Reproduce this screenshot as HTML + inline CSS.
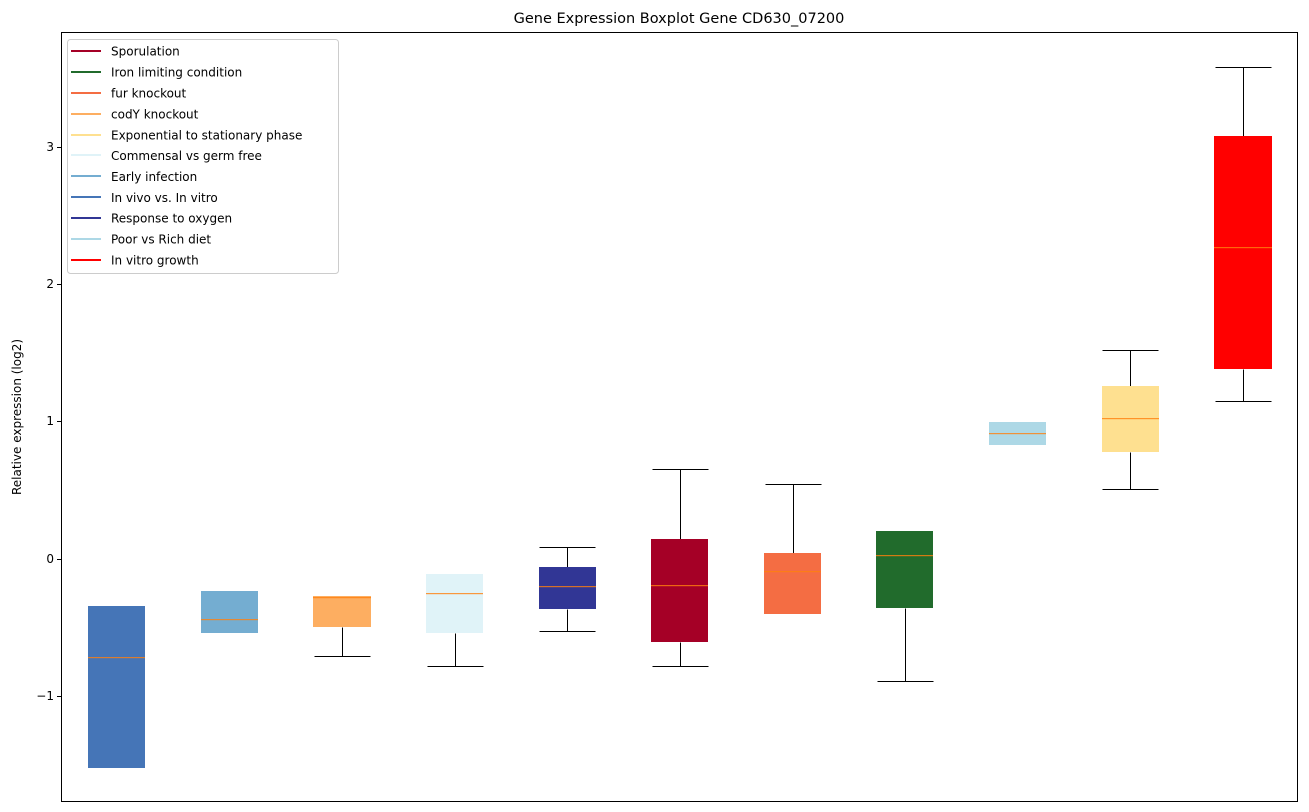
<!DOCTYPE html>
<html><head><style>body{margin:0;background:#fff}svg{display:block}text{font-family:"DejaVu Sans","Liberation Sans",sans-serif}</style></head><body>
<svg width="1309" height="812" xmlns="http://www.w3.org/2000/svg">
<rect width="1309" height="812" fill="#fff"/>
<text x="679" y="23" font-size="14.5" text-anchor="middle">Gene Expression Boxplot Gene CD630_07200</text>
<g stroke="#000" stroke-width="1" transform="translate(0.5,0.5)">
<line x1="342" y1="627" x2="342" y2="656"/><line x1="314" y1="656" x2="370" y2="656"/>
<line x1="455" y1="633" x2="455" y2="666"/><line x1="427" y1="666" x2="483" y2="666"/>
<line x1="567" y1="547" x2="567" y2="567"/><line x1="567" y1="609" x2="567" y2="631"/><line x1="539" y1="547" x2="595" y2="547"/><line x1="539" y1="631" x2="595" y2="631"/>
<line x1="680" y1="469" x2="680" y2="539"/><line x1="680" y1="642" x2="680" y2="666"/><line x1="652" y1="469" x2="708" y2="469"/><line x1="652" y1="666" x2="708" y2="666"/>
<line x1="793" y1="484" x2="793" y2="553"/><line x1="765" y1="484" x2="821" y2="484"/>
<line x1="905" y1="608" x2="905" y2="681"/><line x1="877" y1="681" x2="933" y2="681"/>
<line x1="1130" y1="350" x2="1130" y2="386"/><line x1="1130" y1="452" x2="1130" y2="489"/><line x1="1102" y1="350" x2="1158" y2="350"/><line x1="1102" y1="489" x2="1158" y2="489"/>
<line x1="1243" y1="67" x2="1243" y2="136"/><line x1="1243" y1="369" x2="1243" y2="401"/><line x1="1215" y1="67" x2="1271" y2="67"/><line x1="1215" y1="401" x2="1271" y2="401"/>
</g>
<g>
<rect x="88" y="606" width="57" height="162" fill="#4575b7"/>
<rect x="201" y="591" width="57" height="42" fill="#74add1"/>
<rect x="313" y="596" width="58" height="31" fill="#fdae61"/>
<rect x="426" y="574" width="57" height="59" fill="#e0f3f8"/>
<rect x="539" y="567" width="57" height="42" fill="#313695"/>
<rect x="651" y="539" width="57" height="103" fill="#a50026"/>
<rect x="764" y="553" width="57" height="61" fill="#f46d43"/>
<rect x="876" y="531" width="57" height="77" fill="#216b2c"/>
<rect x="989" y="422" width="57" height="23" fill="#add8e6"/>
<rect x="1102" y="386" width="57" height="66" fill="#fee090"/>
<rect x="1214" y="136" width="58" height="233" fill="#ff0000"/>
</g>
<g fill="#ff7f0e" fill-opacity="0.8">
<rect x="88" y="657" width="57" height="1.2"/><rect x="201" y="619" width="57" height="1.2"/><rect x="313" y="597" width="58" height="1.2"/>
<rect x="426" y="593" width="57" height="1.2"/><rect x="539" y="586" width="57" height="1.2"/><rect x="651" y="585" width="57" height="1.2"/>
<rect x="764" y="571" width="57" height="1.2"/><rect x="876" y="555" width="57" height="1.2"/><rect x="989" y="433" width="57" height="1.2"/>
<rect x="1102" y="418" width="57" height="1.2"/><rect x="1214" y="247" width="58" height="1.2"/>
</g>
<rect x="61.5" y="32.5" width="1236" height="769" fill="none" stroke="#000" stroke-width="1"/>
<g font-size="12" text-anchor="end">
<line x1="57" y1="147.5" x2="61" y2="147.5" stroke="#000"/><text x="54" y="151">3</text>
<line x1="57" y1="284.5" x2="61" y2="284.5" stroke="#000"/><text x="54" y="288">2</text>
<line x1="57" y1="421.5" x2="61" y2="421.5" stroke="#000"/><text x="54" y="425">1</text>
<line x1="57" y1="559.5" x2="61" y2="559.5" stroke="#000"/><text x="54" y="563">0</text>
<line x1="57" y1="696.5" x2="61" y2="696.5" stroke="#000"/><text x="54" y="700">−1</text>
</g>
<text transform="translate(21,417) rotate(-90)" font-size="12" text-anchor="middle">Relative expression (log2)</text>
<rect x="67.5" y="39.5" width="271" height="234" rx="3" fill="#fff" fill-opacity="0.8" stroke="#ccc"/>
<g font-size="12" stroke-width="2">
<line x1="71" y1="51" x2="101" y2="51" stroke="#a50026"/><text x="111" y="55.5">Sporulation</text>
<line x1="71" y1="72" x2="101" y2="72" stroke="#216b2c"/><text x="111" y="76.5">Iron limiting condition</text>
<line x1="71" y1="93" x2="101" y2="93" stroke="#f46d43"/><text x="111" y="97.5">fur knockout</text>
<line x1="71" y1="114" x2="101" y2="114" stroke="#fdae61"/><text x="111" y="118.5">codY knockout</text>
<line x1="71" y1="135" x2="101" y2="135" stroke="#fee090"/><text x="111" y="139.5">Exponential to stationary phase</text>
<line x1="71" y1="155" x2="101" y2="155" stroke="#e0f3f8"/><text x="111" y="160">Commensal vs germ free</text>
<line x1="71" y1="176" x2="101" y2="176" stroke="#74add1"/><text x="111" y="181">Early infection</text>
<line x1="71" y1="197" x2="101" y2="197" stroke="#4575b7"/><text x="111" y="202">In vivo vs. In vitro</text>
<line x1="71" y1="218" x2="101" y2="218" stroke="#313695"/><text x="111" y="222.5">Response to oxygen</text>
<line x1="71" y1="239" x2="101" y2="239" stroke="#add8e6"/><text x="111" y="243.5">Poor vs Rich diet</text>
<line x1="71" y1="260" x2="101" y2="260" stroke="#ff0000"/><text x="111" y="264.5">In vitro growth</text>
</g>
</svg>
</body></html>
